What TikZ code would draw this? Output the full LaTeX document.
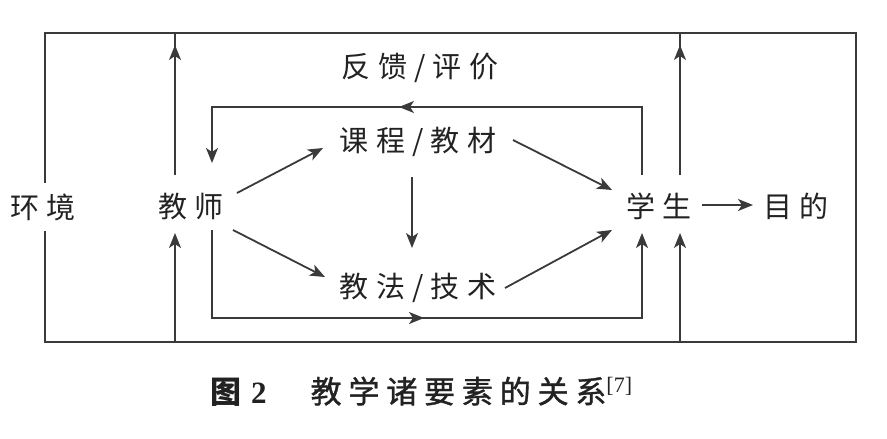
\documentclass[tikz,border=0pt]{standalone}
\usepackage{fontspec}
\usetikzlibrary{arrows.meta}
\newfontfamily\cjk[LetterSpace=25]{Noto Sans CJK SC}
\newfontfamily\cjkcap[LetterSpace=22,FakeBold=1.2]{Noto Sans CJK SC}
\newfontfamily\cjkfig{Noto Sans CJK SC}
\newfontfamily\capnum{Liberation Serif}
\definecolor{ink}{HTML}{222222}
\definecolor{lnc}{HTML}{3A3A3A}
\tikzset{
  lab/.style={inner sep=2pt, text=ink, font=\cjk\fontsize{29}{29}\selectfont},
  ln/.style={draw=lnc, line width=1.8pt},
  arr/.style={ln, -{Stealth[length=15pt,width=12pt,inset=4pt]}},
}
\begin{document}
\begin{tikzpicture}[x=1pt,y=-1pt]
\useasboundingbox (0,0) rectangle (887,439);
% outer rectangle
\coordinate (oTL) at (45,33);
\coordinate (oBR) at (856,342);
\draw[ln] (oTL) rectangle (oBR);
% nodes
\node[lab, fill=white, inner ysep=11pt] (env) at (43,207) {环境};
\node[lab] (tea) at (191,207) {教师};
\node[lab] (cur) at (418,142) {课程/教材};
\node[lab] (met) at (418,288) {教法/技术};
\node[lab] (stu) at (659,206) {学生};
\node[lab] (goal) at (796,206) {目的};
\node[lab] (fb) at (420,68) {反馈/评价};
% column coordinates
\coordinate (lT) at (175,33);
\coordinate (lB) at (175,342);
\coordinate (rT) at (680,33);
\coordinate (rB) at (680,342);
% left column
\draw[ln] (175,175) -- (lT);
\draw[arr] (175,175) -- (175,45);
\draw[arr] (lB) -- (175,233);
% right column
\draw[ln] (680,175) -- (rT);
\draw[arr] (680,175) -- (680,45);
\draw[arr] (rB) -- (680,233);
% inner feedback loop
\coordinate (iTL) at (212,107);
\coordinate (iTR) at (642,107);
\coordinate (iBL) at (212,318);
\coordinate (iBR) at (642,318);
\draw[arr] (642,175) -- (iTR) -- (iTL) -- (212,163);
\draw[arr] (430,107) -- (399,107);
\draw[arr] (212,230) -- (iBL) -- (iBR) -- (642,233);
\draw[arr] (392,318) -- (424,318);
% inner arrows
\draw[arr] ([shift={(46,-14)}]tea.center) -- ([shift={(-95,6)}]cur.center);
\draw[arr] ([shift={(42,23)}]tea.center) -- ([shift={(-93,-11)}]met.center);
\draw[arr] ([shift={(-6,35)}]cur.center) -- ([shift={(-6,-40)}]met.center);
\draw[arr] ([shift={(95,-2)}]cur.center) -- ([shift={(-47,-16)}]stu.center);
\draw[arr] ([shift={(87,0)}]met.center) -- ([shift={(-47,24)}]stu.center);
\draw[arr] ([shift={(43,-1)}]stu.center) -- ([shift={(-43,-1)}]goal.center);
% caption
\node[inner sep=0pt, text=ink, anchor=base west] (cap) at (210,403)
  {{\cjkfig\bfseries\fontsize{31}{31}\selectfont 图}\hspace{10pt}{\capnum\bfseries\fontsize{31}{31}\selectfont 2}\hspace{44pt}{\cjkcap\fontsize{31}{31}\selectfont 教学诸要素的关系}\raisebox{11pt}{\capnum\fontsize{22}{22}\selectfont[7]}};
\end{tikzpicture}
\end{document}
